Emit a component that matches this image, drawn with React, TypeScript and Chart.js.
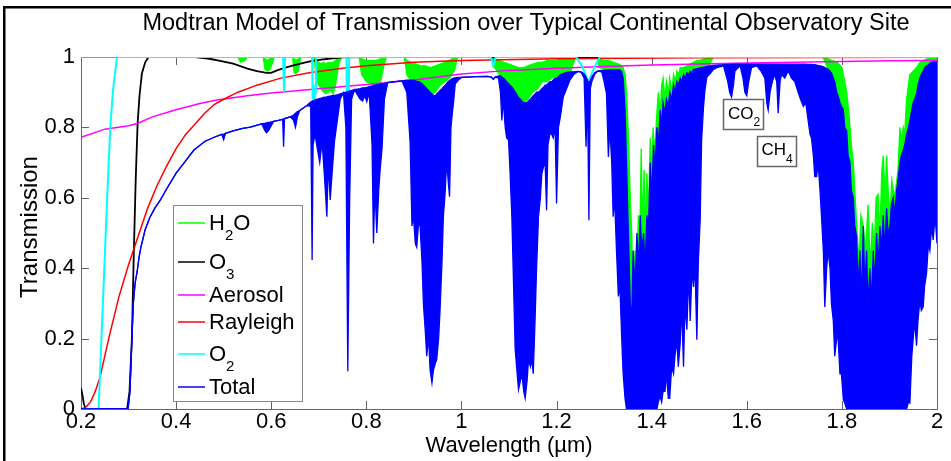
import React, { useEffect, useRef } from "react";
import { Chart, registerables } from "chart.js";

Chart.register(...registerables);

const FONT = "'Liberation Sans', Arial, Helvetica, sans-serif";
const W = 951;
const H = 461;

const titleText = "Modtran Model of Transmission over Typical Continental Observatory Site";
const xAxisTitle = "Wavelength (\u00b5m)";
const yAxisTitle = "Transmission";

const xTickValues = [0.2, 0.4, 0.6, 0.8, 1, 1.2, 1.4, 1.6, 1.8, 2];
const xTickLabels = ["0.2", "0.4", "0.6", "0.8", "1", "1.2", "1.4", "1.6", "1.8", "2"];
const yTickValues = [0, 0.2, 0.4, 0.6, 0.8, 1];
const yTickLabels = ["0", "0.2", "0.4", "0.6", "0.8", "1"];

// Total transmission: upper envelope (hi) and lower contour (lo)
const totalWl = [
  0.2, 0.299, 0.303, 0.307, 0.31, 0.314, 0.318, 0.322, 0.326, 0.335,
  0.345, 0.355, 0.367, 0.38, 0.4, 0.42, 0.437, 0.46, 0.48, 0.496,
  0.5, 0.504, 0.52, 0.54, 0.556, 0.58, 0.587, 0.59, 0.594, 0.598,
  0.605, 0.615, 0.624, 0.626, 0.628, 0.64, 0.647, 0.651, 0.655, 0.66,
  0.675, 0.683, 0.686, 0.688, 0.692, 0.697, 0.702, 0.707, 0.712, 0.717,
  0.72, 0.724, 0.728, 0.733, 0.738, 0.745, 0.752, 0.757, 0.761, 0.765,
  0.769, 0.775, 0.787, 0.792, 0.797, 0.801, 0.806, 0.812, 0.815, 0.818,
  0.822, 0.826, 0.829, 0.833, 0.838, 0.845, 0.86, 0.875, 0.885, 0.892,
  0.896, 0.899, 0.903, 0.906, 0.91, 0.913, 0.917, 0.92, 0.924, 0.927,
  0.931, 0.934, 0.938, 0.941, 0.945, 0.948, 0.952, 0.955, 0.959, 0.962,
  0.966, 0.969, 0.972, 0.975, 0.978, 0.98, 0.984, 0.987, 0.994, 1.0,
  1.03, 1.055, 1.063, 1.067, 1.071, 1.078, 1.082, 1.085, 1.088, 1.092,
  1.095, 1.099, 1.102, 1.106, 1.109, 1.113, 1.116, 1.12, 1.124, 1.127,
  1.131, 1.134, 1.138, 1.141, 1.145, 1.148, 1.151, 1.155, 1.158, 1.162,
  1.166, 1.169, 1.173, 1.176, 1.179, 1.182, 1.186, 1.19, 1.193, 1.197,
  1.2, 1.204, 1.208, 1.214, 1.221, 1.228, 1.236, 1.245, 1.252, 1.258,
  1.262, 1.265, 1.268, 1.271, 1.274, 1.28, 1.286, 1.295, 1.3, 1.305,
  1.309, 1.312, 1.316, 1.319, 1.322, 1.326, 1.33, 1.333, 1.337, 1.34,
  1.344, 1.347, 1.351, 1.355, 1.358, 1.361, 1.365, 1.369, 1.372, 1.376,
  1.379, 1.383, 1.386, 1.39, 1.393, 1.397, 1.4, 1.404, 1.407, 1.411,
  1.414, 1.418, 1.421, 1.424, 1.428, 1.431, 1.435, 1.438, 1.442, 1.446,
  1.449, 1.453, 1.456, 1.46, 1.463, 1.467, 1.47, 1.474, 1.478, 1.481,
  1.485, 1.488, 1.491, 1.495, 1.498, 1.502, 1.505, 1.509, 1.512, 1.516,
  1.523, 1.53, 1.537, 1.551, 1.56, 1.564, 1.568, 1.572, 1.575, 1.586,
  1.592, 1.596, 1.6, 1.604, 1.61, 1.621, 1.63, 1.638, 1.642, 1.645,
  1.649, 1.652, 1.658, 1.663, 1.666, 1.67, 1.673, 1.68, 1.687, 1.694,
  1.701, 1.708, 1.713, 1.719, 1.724, 1.729, 1.733, 1.736, 1.74, 1.743,
  1.747, 1.75, 1.754, 1.757, 1.761, 1.764, 1.768, 1.771, 1.775, 1.778,
  1.782, 1.785, 1.789, 1.792, 1.796, 1.799, 1.803, 1.806, 1.81, 1.813,
  1.817, 1.82, 1.824, 1.827, 1.831, 1.834, 1.838, 1.841, 1.845, 1.848,
  1.852, 1.855, 1.859, 1.862, 1.866, 1.869, 1.873, 1.876, 1.88, 1.883,
  1.887, 1.89, 1.894, 1.897, 1.901, 1.904, 1.908, 1.911, 1.915, 1.918,
  1.922, 1.925, 1.929, 1.932, 1.936, 1.94, 1.943, 1.947, 1.95, 1.953,
  1.957, 1.96, 1.964, 1.967, 1.971, 1.974, 1.978, 1.982, 1.985, 1.989,
  1.992, 1.996, 2.0,
];
const totalHi = [
  0, 0, 0.05, 0.2, 0.3, 0.36, 0.39, 0.43, 0.46, 0.51,
  0.545, 0.57, 0.594, 0.625, 0.67, 0.705, 0.735, 0.76, 0.772, 0.78,
  0.781, 0.783, 0.79, 0.797, 0.801, 0.81, 0.812, 0.813, 0.814, 0.815,
  0.817, 0.82, 0.823, 0.824, 0.825, 0.83, 0.835, 0.84, 0.845, 0.848,
  0.862, 0.872, 0.875, 0.876, 0.878, 0.88, 0.882, 0.884, 0.886, 0.887,
  0.888, 0.889, 0.89, 0.891, 0.892, 0.895, 0.898, 0.9, 0.902, 0.904,
  0.905, 0.907, 0.91, 0.912, 0.913, 0.914, 0.916, 0.918, 0.919, 0.92,
  0.921, 0.922, 0.923, 0.924, 0.925, 0.927, 0.93, 0.932, 0.934, 0.934,
  0.934, 0.934, 0.932, 0.93, 0.93, 0.928, 0.925, 0.92, 0.915, 0.91,
  0.905, 0.9, 0.895, 0.89, 0.89, 0.895, 0.9, 0.905, 0.91, 0.915,
  0.92, 0.925, 0.93, 0.933, 0.936, 0.938, 0.94, 0.941, 0.942, 0.942,
  0.944, 0.945, 0.943, 0.937, 0.943, 0.946, 0.946, 0.943, 0.94, 0.935,
  0.93, 0.925, 0.92, 0.915, 0.91, 0.9, 0.895, 0.885, 0.88, 0.875,
  0.87, 0.87, 0.87, 0.875, 0.88, 0.885, 0.89, 0.895, 0.9, 0.9,
  0.905, 0.91, 0.915, 0.92, 0.92, 0.925, 0.93, 0.93, 0.935, 0.94,
  0.94, 0.945, 0.95, 0.953, 0.956, 0.958, 0.958, 0.959, 0.958, 0.952,
  0.943, 0.933, 0.928, 0.933, 0.943, 0.955, 0.96, 0.962, 0.962, 0.963,
  0.963, 0.963, 0.963, 0.963, 0.963, 0.963, 0.963, 0.963, 0.958, 0.94,
  0.85, 0.7, 0.5, 0.3, 0.25, 0.45, 0.35, 0.5, 0.4, 0.55,
  0.45, 0.5, 0.4, 0.55, 0.5, 0.7, 0.6, 0.75, 0.68, 0.8,
  0.75, 0.85, 0.8, 0.87, 0.84, 0.88, 0.86, 0.9, 0.88, 0.92,
  0.9, 0.93, 0.92, 0.94, 0.93, 0.95, 0.94, 0.955, 0.95, 0.96,
  0.955, 0.965, 0.965, 0.967, 0.968, 0.97, 0.97, 0.971, 0.972, 0.973,
  0.975, 0.976, 0.977, 0.978, 0.979, 0.979, 0.979, 0.979, 0.98, 0.98,
  0.98, 0.98, 0.98, 0.98, 0.98, 0.98, 0.98, 0.98, 0.98, 0.98,
  0.98, 0.98, 0.98, 0.98, 0.98, 0.98, 0.98, 0.98, 0.98, 0.98,
  0.98, 0.98, 0.98, 0.98, 0.98, 0.979, 0.979, 0.979, 0.978, 0.978,
  0.977, 0.976, 0.975, 0.974, 0.972, 0.97, 0.968, 0.965, 0.96, 0.955,
  0.94, 0.93, 0.9, 0.89, 0.87, 0.86, 0.85, 0.8, 0.79, 0.72,
  0.7, 0.62, 0.6, 0.52, 0.49, 0.35, 0.45, 0.3, 0.52, 0.35,
  0.45, 0.3, 0.4, 0.3, 0.45, 0.35, 0.5, 0.4, 0.52, 0.45,
  0.55, 0.45, 0.57, 0.5, 0.52, 0.58, 0.6, 0.55, 0.62, 0.65,
  0.7, 0.72, 0.735, 0.75, 0.78, 0.8, 0.82, 0.85, 0.87, 0.88,
  0.896, 0.92, 0.94, 0.95, 0.96, 0.97, 0.975, 0.978, 0.982, 0.985,
  0.986, 0.986, 0.986,
];
const totalLo = [
  0, 0, 0.05, 0.2, 0.3, 0.36, 0.39, 0.43, 0.46, 0.51,
  0.545, 0.57, 0.594, 0.625, 0.67, 0.705, 0.735, 0.76, 0.772, 0.78,
  0.765, 0.783, 0.79, 0.797, 0.801, 0.81, 0.79, 0.785, 0.79, 0.8,
  0.817, 0.82, 0.823, 0.745, 0.825, 0.83, 0.82, 0.8, 0.83, 0.848,
  0.862, 0.86, 0.423, 0.75, 0.78, 0.74, 0.7, 0.76, 0.66, 0.546,
  0.7, 0.594, 0.67, 0.76, 0.81, 0.88, 0.898, 0.8, 0.107, 0.6,
  0.88, 0.907, 0.88, 0.875, 0.89, 0.873, 0.9, 0.75, 0.47, 0.631,
  0.5, 0.62, 0.679, 0.74, 0.88, 0.927, 0.93, 0.932, 0.9, 0.76,
  0.52, 0.55, 0.47, 0.46, 0.53, 0.52, 0.42, 0.3, 0.22, 0.15,
  0.206, 0.111, 0.074, 0.11, 0.13, 0.14, 0.2, 0.281, 0.414, 0.546,
  0.62, 0.707, 0.65, 0.603, 0.8, 0.83, 0.88, 0.924, 0.935, 0.942,
  0.944, 0.945, 0.943, 0.937, 0.943, 0.94, 0.9, 0.82, 0.88, 0.8,
  0.77, 0.764, 0.68, 0.546, 0.385, 0.17, 0.12, 0.055, 0.08, 0.1,
  0.05, 0.031, 0.08, 0.14, 0.12, 0.14, 0.1, 0.262, 0.4, 0.546,
  0.6, 0.669, 0.69, 0.697, 0.565, 0.75, 0.782, 0.78, 0.77, 0.8,
  0.584, 0.8, 0.83, 0.886, 0.91, 0.934, 0.95, 0.959, 0.956, 0.94,
  0.745, 0.9, 0.536, 0.91, 0.93, 0.95, 0.96, 0.958, 0.93, 0.896,
  0.716, 0.8, 0.7, 0.546, 0.6, 0.452, 0.32, 0.357, 0.2, 0.1,
  0.03, 0, 0, 0, 0, 0, 0, 0, 0, 0,
  0, 0, 0, 0, 0, 0, 0, 0, 0, 0,
  0.02, 0.036, 0.02, 0.05, 0.05, 0.1, 0.03, 0.03, 0.12, 0.1,
  0.15, 0.197, 0.12, 0.187, 0.29, 0.12, 0.3, 0.225, 0.385, 0.25,
  0.4, 0.347, 0.414, 0.197, 0.414, 0.536, 0.763, 0.858, 0.905, 0.943,
  0.953, 0.965, 0.97, 0.975, 0.93, 0.9, 0.886, 0.92, 0.96, 0.975,
  0.94, 0.9, 0.89, 0.93, 0.97, 0.975, 0.96, 0.94, 0.87, 0.849,
  0.9, 0.92, 0.95, 0.93, 0.84, 0.93, 0.95, 0.94, 0.96, 0.94,
  0.93, 0.9, 0.88, 0.86, 0.87, 0.82, 0.78, 0.77, 0.72, 0.66,
  0.66, 0.7, 0.62, 0.55, 0.45, 0.29, 0.4, 0.45, 0.4, 0.3,
  0.25, 0.15, 0.2, 0.2, 0.1, 0.1, 0.027, 0.017, 0, 0,
  0, 0, 0, 0, 0, 0, 0, 0, 0, 0,
  0, 0, 0, 0, 0, 0, 0, 0, 0, 0,
  0, 0, 0, 0, 0, 0, 0, 0, 0, 0,
  0, 0, 0, 0, 0, 0.02, 0.017, 0.15, 0.2, 0.25,
  0.18, 0.25, 0.31, 0.28, 0.29, 0.35, 0.385, 0.47, 0.45, 0.52,
  0.48, 0.55, 0.47,
];

// H2O transmission: upper and lower bounds of the dense line structure
const h2oWl = [
  0.2, 0.53, 0.535, 0.545, 0.55, 0.583, 0.587, 0.592, 0.597, 0.602,
  0.606, 0.645, 0.648, 0.652, 0.657, 0.662, 0.69, 0.695, 0.7, 0.705,
  0.71, 0.715, 0.72, 0.725, 0.73, 0.735, 0.742, 0.748, 0.785, 0.79,
  0.8, 0.81, 0.82, 0.83, 0.836, 0.842, 0.88, 0.885, 0.895, 0.905,
  0.915, 0.925, 0.935, 0.945, 0.955, 0.965, 0.975, 0.985, 0.992, 1.065,
  1.07, 1.08, 1.09, 1.1, 1.11, 1.12, 1.13, 1.14, 1.15, 1.16,
  1.17, 1.18, 1.19, 1.2, 1.21, 1.22, 1.23, 1.24, 1.285, 1.29,
  1.3, 1.31, 1.32, 1.33, 1.337, 1.34, 1.344, 1.347, 1.351, 1.355,
  1.358, 1.361, 1.365, 1.368, 1.372, 1.375, 1.378, 1.381, 1.384, 1.387,
  1.39, 1.393, 1.397, 1.4, 1.403, 1.406, 1.41, 1.414, 1.418, 1.421,
  1.424, 1.428, 1.431, 1.435, 1.438, 1.442, 1.446, 1.45, 1.453, 1.457,
  1.46, 1.467, 1.474, 1.48, 1.488, 1.495, 1.5, 1.51, 1.52, 1.53,
  1.76, 1.77, 1.78, 1.79, 1.8, 1.806, 1.81, 1.814, 1.817, 1.82,
  1.824, 1.828, 1.832, 1.836, 1.84, 1.845, 1.85, 1.855, 1.86, 1.864,
  1.868, 1.872, 1.876, 1.88, 1.884, 1.887, 1.891, 1.894, 1.898, 1.901,
  1.905, 1.911, 1.918, 1.922, 1.925, 1.929, 1.932, 1.936, 1.943, 1.95,
  1.957, 1.964, 1.971, 1.98, 1.99, 2.0,
];
const h2oHi = [
  1, 1, 1, 1, 1, 1, 0.995, 0.99, 0.995, 1,
  1, 1, 0.995, 0.99, 0.995, 1, 1, 0.99, 0.985, 0.98,
  0.985, 0.98, 0.985, 0.985, 0.985, 0.99, 1, 1, 1, 0.995,
  0.99, 0.99, 0.99, 0.995, 1, 1, 1, 0.99, 0.985, 0.98,
  0.975, 0.975, 0.97, 0.975, 0.98, 0.985, 0.99, 1, 1, 1,
  0.995, 0.99, 0.985, 0.98, 0.975, 0.97, 0.97, 0.975, 0.98, 0.985,
  0.985, 0.99, 0.99, 0.99, 0.995, 0.995, 1, 1, 1, 0.995,
  0.99, 0.99, 0.985, 0.98, 0.975, 0.97, 0.95, 0.9, 0.78, 0.6,
  0.5, 0.3, 0.45, 0.35, 0.55, 0.48, 0.74, 0.5, 0.68, 0.5,
  0.67, 0.55, 0.77, 0.65, 0.8, 0.72, 0.82, 0.9, 0.84, 0.92,
  0.94, 0.88, 0.93, 0.9, 0.94, 0.9, 0.95, 0.93, 0.96, 0.95,
  0.97, 0.97, 0.975, 0.98, 0.985, 0.99, 0.99, 0.995, 1, 1,
  1, 0.995, 0.99, 0.985, 0.97, 0.93, 0.9, 0.85, 0.8, 0.75,
  0.7, 0.6, 0.5, 0.42, 0.55, 0.52, 0.45, 0.58, 0.4, 0.53,
  0.45, 0.6, 0.61, 0.5, 0.68, 0.72, 0.6, 0.72, 0.6, 0.55,
  0.65, 0.6, 0.68, 0.8, 0.76, 0.8, 0.78, 0.88, 0.95, 0.96,
  0.97, 0.985, 0.99, 0.995, 0.995, 1,
];
const h2oLo = [
  1, 1, 0.985, 0.99, 1, 1, 0.965, 0.96, 0.965, 0.98,
  1, 1, 0.955, 0.953, 0.96, 1, 1, 0.94, 0.92, 0.91,
  0.9, 0.896, 0.9, 0.91, 0.895, 0.92, 0.98, 1, 1, 0.95,
  0.93, 0.925, 0.92, 0.93, 0.97, 1, 1, 0.95, 0.93, 0.92,
  0.9, 0.9, 0.887, 0.9, 0.92, 0.93, 0.94, 0.96, 1, 1,
  0.97, 0.95, 0.93, 0.91, 0.9, 0.88, 0.869, 0.88, 0.9, 0.91,
  0.93, 0.93, 0.94, 0.945, 0.95, 0.955, 0.96, 1, 1, 0.97,
  0.965, 0.96, 0.96, 0.955, 0.94, 0.9, 0.8, 0.6, 0.4, 0.25,
  0.2, 0.25, 0.3, 0.3, 0.38, 0.4, 0.45, 0.44, 0.45, 0.4,
  0.5, 0.48, 0.6, 0.58, 0.65, 0.66, 0.72, 0.72, 0.8, 0.78,
  0.84, 0.82, 0.86, 0.84, 0.88, 0.86, 0.9, 0.88, 0.91, 0.9,
  0.92, 0.93, 0.94, 0.95, 0.96, 0.96, 0.965, 0.97, 0.975, 1,
  1, 0.97, 0.95, 0.9, 0.86, 0.8, 0.79, 0.72, 0.7, 0.62,
  0.6, 0.52, 0.45, 0.35, 0.3, 0.45, 0.35, 0.3, 0.35, 0.3,
  0.35, 0.45, 0.4, 0.45, 0.45, 0.55, 0.45, 0.57, 0.5, 0.52,
  0.58, 0.55, 0.65, 0.7, 0.72, 0.735, 0.75, 0.78, 0.82, 0.87,
  0.896, 0.94, 0.96, 0.975, 0.98, 0.985,
];

const o3Wl = [
  0.2, 0.203, 0.206, 0.21, 0.297, 0.302, 0.307, 0.311, 0.315, 0.319,
  0.323, 0.328, 0.335, 0.342, 0.44, 0.47, 0.49, 0.52, 0.55, 0.57,
  0.59, 0.6, 0.612, 0.63, 0.647, 0.67, 0.689, 0.72, 0.75, 0.8, 2.0,
];
const o3T = [
  0.06, 0.04, 0.015, 0, 0, 0.05, 0.2, 0.44, 0.65, 0.81,
  0.89, 0.953, 0.985, 1, 1, 0.995, 0.99, 0.981, 0.967, 0.96,
  0.955, 0.955, 0.962, 0.97, 0.976, 0.984, 0.99, 0.995, 0.999, 1, 1,
];

const aerWl = [
  0.2, 0.25, 0.3, 0.32, 0.35, 0.4, 0.45, 0.486, 0.55, 0.6,
  0.7, 0.8, 0.9, 1.0, 1.1, 1.2, 1.3, 1.4, 1.5, 1.6,
  1.7, 1.8, 1.9, 2.0,
];
const aerT = [
  0.772, 0.795, 0.805, 0.812, 0.83, 0.85, 0.868, 0.878, 0.89, 0.898,
  0.91, 0.922, 0.935, 0.952, 0.962, 0.968, 0.973, 0.977, 0.98, 0.983,
  0.985, 0.987, 0.989, 0.99,
];

const rayWl = [
  0.2, 0.21, 0.22, 0.23, 0.24, 0.25, 0.26, 0.28, 0.3, 0.32,
  0.34, 0.36, 0.38, 0.4, 0.42, 0.44, 0.46, 0.48, 0.5, 0.53,
  0.57, 0.62, 0.68, 0.75, 0.8, 0.9, 1.0, 1.2, 1.5, 2.0,
];
const rayT = [
  0, 0.005, 0.02, 0.05, 0.09, 0.15, 0.21, 0.32, 0.41, 0.49,
  0.57, 0.635, 0.69, 0.74, 0.78, 0.81, 0.84, 0.865, 0.88, 0.9,
  0.92, 0.94, 0.955, 0.968, 0.975, 0.985, 0.99, 0.995, 0.998, 0.999,
];

const o2Wl = [
  0.2, 0.237, 0.243, 0.249, 0.255, 0.2616, 0.267, 0.272, 0.276, 0.625,
  0.627, 0.629, 0.686, 0.687, 0.689, 0.691, 0.693, 0.694, 0.758, 0.759,
  0.761, 0.763, 0.764, 1.062, 1.067, 1.072, 1.242, 1.255, 1.267, 1.279,
  1.291, 2.0,
];
const o2T = [
  0, 0, 0.2, 0.4, 0.6, 0.8, 0.9, 0.96, 1, 1,
  0.9, 1, 1, 0.88, 0.92, 0.87, 0.9, 1, 1, 0.89,
  0.9, 0.89, 1, 1, 0.975, 1, 1, 0.97, 0.929, 0.97,
  1, 1,
];

type Seg = [string, number];
const legendNames: Seg[][] = [
  [["H", 0], ["2", 1], ["O", 0]],
  [["O", 0], ["3", 1]],
  [["Aerosol", 0]],
  [["Rayleigh", 0]],
  [["O", 0], ["2", 1]],
  [["Total", 0]],
];
const legendColors = ["#00ff00", "#000000", "#ff00ff", "#ff0000", "#00ffff", "#0000ff"];
const co2Label: Seg[] = [["CO", 0], ["2", 1]];
const ch4Label: Seg[] = [["CH", 0], ["4", 1]];

const pts = (xs: number[], ys: number[]) => xs.map((x, i) => ({ x, y: ys[i] }));

function drawRich(ctx: CanvasRenderingContext2D, x: number, y: number, segs: Seg[], size: number, subSize: number, subDy: number) {
  let cx = x;
  for (const [t, sub] of segs) {
    ctx.font = `${sub ? subSize : size}px ${FONT}`;
    ctx.fillText(t, cx, sub ? y + subDy : y);
    cx += ctx.measureText(t).width;
  }
}

const decorPlugin = {
  id: "decor",
  beforeDatasetsDraw(chart: any) {
    const { ctx, chartArea: a, scales } = chart;
    ctx.save();
    ctx.strokeStyle = "#666";
    ctx.lineWidth = 1;
    ctx.strokeRect(Math.round(a.left) + 0.5, Math.round(a.top) + 0.5, Math.round(a.right - a.left), Math.round(a.bottom - a.top));
    ctx.beginPath();
    const tl = 8;
    for (const v of xTickValues) {
      const px = Math.round(scales.x.getPixelForValue(v)) + 0.5;
      ctx.moveTo(px, a.bottom);
      ctx.lineTo(px, a.bottom - tl);
      ctx.moveTo(px, a.top);
      ctx.lineTo(px, a.top + tl);
    }
    for (const v of yTickValues) {
      const py = Math.round(scales.y.getPixelForValue(v)) + 0.5;
      ctx.moveTo(a.left, py);
      ctx.lineTo(a.left + tl, py);
      ctx.moveTo(a.right, py);
      ctx.lineTo(a.right - tl, py);
    }
    ctx.stroke();
    ctx.restore();
  },
  afterDraw(chart: any) {
    const { ctx, chartArea: a } = chart;
    ctx.save();
    // figure frame
    ctx.fillStyle = "#000";
    ctx.fillRect(3, 6, 2.5, H - 6);
    ctx.fillRect(3, 6, W - 3, 2.5);
    // title
    ctx.fillStyle = "#000";
    ctx.textAlign = "center";
    ctx.textBaseline = "alphabetic";
    ctx.font = `23.5px ${FONT}`;
    ctx.fillText(titleText, 526, 30);
    // x title
    ctx.font = `22px ${FONT}`;
    ctx.fillText(xAxisTitle, (a.left + a.right) / 2, 452);
    // y title
    ctx.save();
    ctx.font = `24px ${FONT}`;
    ctx.translate(37, 227);
    ctx.rotate(-Math.PI / 2);
    ctx.fillText(yAxisTitle, 0, 0);
    ctx.restore();
    // legend
    const lx = 173.5, ly = 205.5, lw = 129, lh = 196;
    ctx.fillStyle = "#fff";
    ctx.fillRect(lx, ly, lw, lh);
    ctx.strokeStyle = "#888";
    ctx.lineWidth = 1;
    ctx.strokeRect(lx, ly, lw, lh);
    const rows = [223, 262, 295, 322, 354, 387];
    ctx.textAlign = "left";
    legendNames.forEach((segs, i) => {
      const y = rows[i];
      ctx.strokeStyle = legendColors[i];
      ctx.lineWidth = 1.5;
      ctx.beginPath();
      ctx.moveTo(178, y);
      ctx.lineTo(205, y);
      ctx.stroke();
      ctx.fillStyle = "#000";
      drawRich(ctx, 209, y + 6.5, segs, 22, 15, 10);
    });
    // annotations
    ctx.fillStyle = "#fff";
    ctx.fillRect(723.5, 99.5, 40, 30);
    ctx.strokeStyle = "#666";
    ctx.strokeRect(723.5, 99.5, 40, 30);
    ctx.fillStyle = "#000";
    drawRich(ctx, 728, 118.5, co2Label, 17, 12, 7.5);
    ctx.fillStyle = "#fff";
    ctx.fillRect(757.5, 136.5, 39, 30);
    ctx.strokeStyle = "#666";
    ctx.strokeRect(757.5, 136.5, 39, 30);
    ctx.fillStyle = "#000";
    drawRich(ctx, 761.5, 155, ch4Label, 17, 12, 8);
    ctx.restore();
  },
};

export default function App() {
  const ref = useRef<HTMLCanvasElement>(null);
  useEffect(() => {
    const line = (data: any, color: string, width: number, extra: any = {}) => ({
      data,
      borderColor: color,
      backgroundColor: color,
      borderWidth: width,
      pointRadius: 0,
      fill: false,
      tension: 0,
      ...extra,
    });
    const chart = new Chart(ref.current as HTMLCanvasElement, {
      type: "line",
      data: {
        datasets: [
          line(pts(totalWl, totalHi), "#0000ff", 1.3),
          line(pts(totalWl, totalLo), "#0000ff", 1.3, { fill: "-1" }),
          line(pts(o2Wl, o2T), "#00ffff", 2),
          line(pts(rayWl, rayT), "#ff0000", 1.5),
          line(pts(aerWl, aerT), "#ff00ff", 1.5),
          line(pts(o3Wl, o3T), "#000000", 1.8),
          line(pts(h2oWl, h2oHi), "#00ff00", 1.3),
          line(pts(h2oWl, h2oLo), "#00ff00", 1.3, { fill: "-1" }),
        ],
      },
      options: {
        animation: false,
        responsive: false,
        maintainAspectRatio: false,
        layout: { padding: { left: 0, right: 14, top: 57, bottom: 0 } },
        plugins: {
          legend: { display: false },
          tooltip: { enabled: false },
          title: { display: false },
        },
        scales: {
          x: {
            type: "linear",
            min: 0.2,
            max: 2,
            grid: { display: false, drawTicks: false },
            border: { display: false },
            afterBuildTicks: (s: any) => {
              s.ticks = xTickValues.map((v) => ({ value: v }));
            },
            afterFit: (s: any) => {
              s.height = 52;
            },
            ticks: {
              autoSkip: false,
              maxRotation: 0,
              padding: 0,
              color: "#000",
              font: { family: FONT, size: 22 },
              callback: (_v: any, i: number) => xTickLabels[i],
            },
          },
          y: {
            type: "linear",
            min: 0,
            max: 1,
            grid: { display: false, drawTicks: false },
            border: { display: false },
            afterBuildTicks: (s: any) => {
              s.ticks = yTickValues.map((v) => ({ value: v }));
            },
            afterFit: (s: any) => {
              s.width = 81;
            },
            ticks: {
              padding: 6,
              color: "#000",
              font: { family: FONT, size: 22 },
              callback: (_v: any, i: number) => yTickLabels[i],
            },
          },
        },
      } as any,
      plugins: [decorPlugin],
    });
    return () => chart.destroy();
  }, []);
  return (
    <div style={{ position: "absolute", left: 0, top: 0, width: W, height: H, background: "#fff" }}>
      <canvas ref={ref} width={W} height={H} style={{ width: W, height: H, display: "block" }} />
    </div>
  );
}
